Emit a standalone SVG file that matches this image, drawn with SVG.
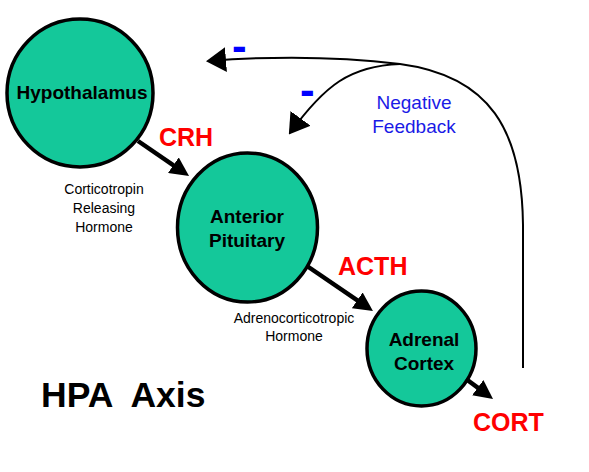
<svg xmlns="http://www.w3.org/2000/svg" width="589" height="472" viewBox="0 0 589 472">
<style>
.node{fill:#14C89A;stroke:#000;stroke-width:3.5}
.nt{font-family:"Liberation Sans",Arial,sans-serif;font-weight:bold;font-size:19px;fill:#000;text-anchor:middle}
.hl{font-family:"Liberation Sans",Arial,sans-serif;font-weight:bold;font-size:25px;fill:#FF0000}
.sm{font-family:"Liberation Sans",Arial,sans-serif;font-size:14px;fill:#000;text-anchor:middle}
.fb{font-family:"Liberation Sans",Arial,sans-serif;font-size:19px;fill:#1A1AE6;text-anchor:middle}
.minus{font-family:"Liberation Sans",Arial,sans-serif;font-weight:bold;font-size:44px;fill:#0000FF}
.thick{stroke:#000;stroke-width:4.5;fill:none;marker-end:url(#bigHead)}
.thin{stroke:#000;stroke-width:2;fill:none;marker-end:url(#thinHead)}
</style>
<defs>
<marker id="bigHead" markerUnits="userSpaceOnUse" markerWidth="19" markerHeight="19" refX="13" refY="9.5" orient="auto" viewBox="0 0 19 19">
<path d="M0,0 L19,9.5 L0,19 z" fill="#000"/>
</marker>
<marker id="thinHead" markerUnits="userSpaceOnUse" markerWidth="20" markerHeight="25" refX="18" refY="12.5" orient="auto" viewBox="0 0 20 25">
<path d="M0,0 L20,12.5 L0,25 z" fill="#000"/>
</marker>
</defs>
<rect width="589" height="472" fill="#fff"/>
<g id="hypothalamus">
<ellipse class="node" cx="80" cy="93" rx="73" ry="74"/>
<text class="nt" x="82" y="99">Hypothalamus</text>
</g>
<g id="anterior-pituitary">
<ellipse class="node" cx="247.5" cy="227.5" rx="70" ry="74.5"/>
<text class="nt" x="247" y="223">Anterior</text>
<text class="nt" x="247" y="247">Pituitary</text>
</g>
<g id="adrenal-cortex">
<ellipse class="node" cx="421.5" cy="348.5" rx="54.5" ry="57.5"/>
<text class="nt" x="424" y="346">Adrenal</text>
<text class="nt" x="424" y="370">Cortex</text>
</g>
<g id="connectors">
<line class="thick" x1="138" y1="141" x2="184.1" y2="172.6"/>
<line class="thick" x1="307" y1="266" x2="368" y2="307.6"/>
<line class="thick" x1="466" y1="379" x2="488.2" y2="395.4"/>
<path class="thin" d="M523,368 L523,225 C522,130 490,76 400,64 Q310,53 208,61"/>
<path class="thin" d="M400,64 C350,66 325,85 290,133"/>
</g>
<g id="labels">
<text class="hl" x="159" y="146">CRH</text>
<text class="hl" x="338" y="275">ACTH</text>
<text class="hl" x="473" y="431">CORT</text>
<text class="sm" x="104" y="194">Corticotropin</text>
<text class="sm" x="104" y="213">Releasing</text>
<text class="sm" x="104" y="232">Hormone</text>
<text class="sm" x="294" y="323">Adrenocorticotropic</text>
<text class="sm" x="294" y="341">Hormone</text>
<text class="fb" x="414" y="109">Negative</text>
<text class="fb" x="414" y="133">Feedback</text>
<text class="minus" x="232" y="61">-</text>
<text class="minus" x="300" y="105">-</text>
<text x="41" y="407" font-family="Liberation Sans,Arial,sans-serif" font-weight="bold" font-size="35.5" fill="#000" xml:space="preserve">HPA  Axis</text>
</g>
</svg>
